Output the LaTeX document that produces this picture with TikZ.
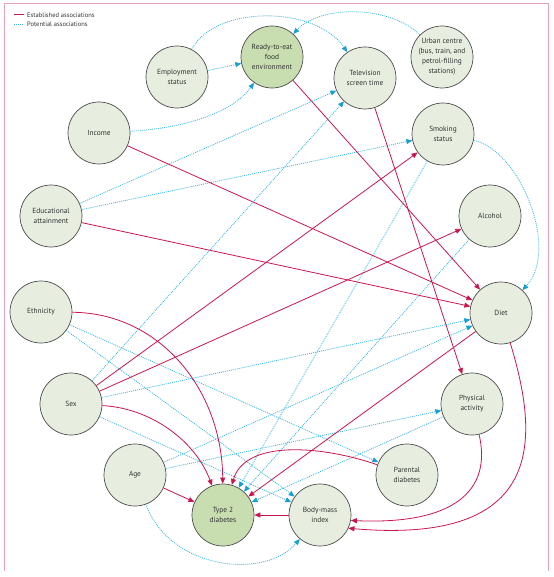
\documentclass[tikz,border=0pt]{standalone}
\usepackage{fontspec}
\setmainfont{PT Sans}
\usetikzlibrary{arrows.meta}
\definecolor{framecol}{HTML}{E6A3BD}
\definecolor{nfill}{HTML}{E7EEDF}
\definecolor{dfill}{HTML}{C8DEB0}
\definecolor{nborder}{HTML}{4D4D4D}
\definecolor{estcol}{HTML}{C8174D}
\definecolor{potcol}{HTML}{3BB6DF}
\definecolor{pottip}{HTML}{1A9FD2}
\definecolor{txt}{HTML}{333333}
\tikzset{
  var/.style={circle, draw=nborder, line width=0.7pt, fill=nfill, minimum size=62pt, inner sep=0pt, align=center, text=txt, font=\fontsize{7.4}{10}\selectfont},
  outcome/.style={var, fill=dfill},
  estab/.style={draw=estcol, line width=0.8pt, -{Triangle[length=6pt,width=5pt,fill=estcol,color=estcol]}},
  poten/.style={draw=potcol, line width=0.8pt, dash pattern=on 1pt off 1pt, -{Triangle[length=6pt,width=5pt,fill=pottip,color=pottip]}},
  legtext/.style={anchor=west, inner sep=0pt, text=txt, font=\fontsize{6.5}{8}\selectfont}
}
\begin{document}
\begin{tikzpicture}[x=1pt,y=-1pt]
\useasboundingbox (0,0) rectangle (553,577);
% frame
\draw[draw=framecol, line width=0.8pt] (4,571) -- (4,3) -- (548,3) -- (548,571);
% legend
\coordinate (l1a) at (14,15); \coordinate (l1b) at (24,15);
\coordinate (l2a) at (14,24); \coordinate (l2b) at (24,24);
\draw[draw=estcol, line width=1pt] (l1a) -- (l1b);
\draw[draw=potcol, line width=0.9pt, dash pattern=on 1pt off 1pt] (l2a) -- (l2b);
\node[legtext] (leg1) at (27,15) {Established associations};
\node[legtext] (leg2) at (27,24) {Potential associations};
% nodes
\node[outcome] (rte) at (272,57) {Ready-to-eat\\food\\environment};
\node[var] (emp) at (177,77) {Employment\\status};
\node[var] (tv) at (365,78) {Television\\screen time};
\node[var] (urb) at (442,57) {Urban centre\\(bus, train, and\\petrol-filling\\stations)};
\node[var] (inc) at (99,133) {Income};
\node[var] (edu) at (51,216) {Educational\\attainment};
\node[var] (smk) at (443,134) {Smoking\\status};
\node[var] (alc) at (490,216) {Alcohol};
\node[var] (diet) at (501,313) {Diet};
\node[var] (eth) at (41,312) {Ethnicity};
\node[var] (sex) at (71,404) {Sex};
\node[var] (age) at (135,475) {Age};
\node[outcome] (t2) at (223,515) {Type 2\\diabetes};
\node[var] (bmi) at (320,515) {Body-mass\\index};
\node[var] (phy) at (472,404) {Physical\\activity};
\node[var] (par) at (407,475) {Parental\\diabetes};
% potential associations
\draw[poten] (emp) .. controls (215,5) and (315,5) .. (tv);
\draw[poten] (urb) .. controls (390,5) and (320,5) .. (rte);
\draw[poten] (emp) -- (rte);
\draw[poten] (inc) .. controls (190,128) and (235,110) .. (rte);
\draw[poten] (edu) -- (tv);
\draw[poten] (edu) -- (smk);
\draw[poten] (sex) -- (tv);
\draw[poten] (smk) .. controls (520,150) and (560,250) .. (diet);
\draw[poten] (smk) -- (t2);
\draw[poten] (alc) -- (t2);
\draw[poten] (phy) -- (t2);
\draw[poten] (eth) -- (par);
\draw[poten] (eth) -- (bmi);
\draw[poten] (sex) -- (diet);
\draw[poten] (sex) -- (bmi);
\draw[poten] (age) -- (diet);
\draw[poten] (age) -- (phy);
\draw[poten] (age) .. controls (170,570) and (265,580) .. (bmi);
% established associations
\draw[estab] (rte) -- (diet);
\draw[estab] (inc) -- (diet);
\draw[estab] (edu) -- (diet);
\draw[estab] (tv) -- (phy);
\draw[estab] (sex) -- (smk);
\draw[estab] (sex) -- (alc);
\draw[estab] (eth) .. controls (160,313) and (222,390) .. (t2);
\draw[estab] (sex) .. controls (150,408) and (195,440) .. (t2);
\draw[estab] (age) -- (t2);
\draw[estab] (diet) -- (t2);
\draw[estab] (par) .. controls (320,445) and (245,440) .. (t2);
\draw[estab] (bmi) -- (t2);
\draw[estab] (phy) .. controls (492,490) and (455,525) .. (bmi.-10);
\draw[estab] (diet) .. controls (540,440) and (545,545) .. (bmi.-25);
\end{tikzpicture}
\end{document}
